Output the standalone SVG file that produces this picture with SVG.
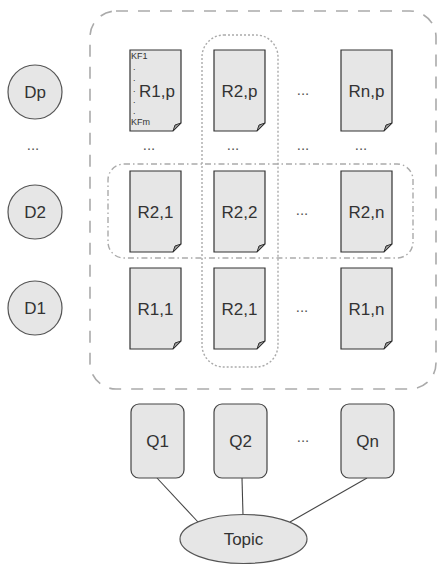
<svg xmlns="http://www.w3.org/2000/svg" width="437" height="566" viewBox="0 0 437 566">
<style>
text{font-family:"Liberation Sans",Arial,sans-serif;fill:#333;}
.lbl{font-size:17px;text-anchor:middle;}
.dots{font-size:15px;text-anchor:middle;fill:#555;}
.small{font-size:9px;}
.doc{fill:#e6e6e6;stroke:#333;stroke-width:1.2;}
.fold{fill:#999;stroke:#333;stroke-width:1;}
.circ{fill:#e6e6e6;stroke:#555;stroke-width:1.2;}
.q{fill:#e6e6e6;stroke:#444;stroke-width:1.2;}
.edge{stroke:#444;stroke-width:1.1;fill:none;}
</style>
<defs>
<g id="docshape">
<path class="doc" d="M0,0 H51 V73 L43,81 H0 Z"/>
<path class="fold" d="M51,73 L43,81 L45,75 Z"/>
</g>
</defs>
<g id="groups">
<rect x="90" y="11" width="346" height="378" rx="26" ry="26" fill="none" stroke="#aaa" stroke-width="1.6" stroke-dasharray="12 10"/>
<rect x="108" y="164" width="305" height="94" rx="16" ry="16" fill="none" stroke="#aaa" stroke-width="1.4" stroke-dasharray="6 3 1.5 3"/>
<rect x="202" y="35" width="76" height="332" rx="22" ry="22" fill="none" stroke="#aaa" stroke-width="1.4" stroke-dasharray="2 2"/>
</g>
<g id="connectors">
<line class="edge" x1="157" y1="478" x2="198" y2="522"/>
<line class="edge" x1="242" y1="478" x2="243" y2="515"/>
<line class="edge" x1="367" y1="478" x2="290" y2="522"/>
</g>
<g id="Dp"><circle class="circ" cx="35" cy="92" r="27"/><text class="lbl" x="35" y="98">Dp</text></g>
<text class="dots" x="33" y="150">...</text>
<g id="D2"><circle class="circ" cx="35" cy="212" r="27"/><text class="lbl" x="35" y="218">D2</text></g>
<g id="D1"><circle class="circ" cx="35" cy="308" r="27"/><text class="lbl" x="35" y="314">D1</text></g>
<g id="R1p"><use href="#docshape" x="130" y="50"/><text class="lbl" x="157" y="97">R1,p</text>
<text class="small" x="131" y="59">KF1</text>
<text class="small" x="133" y="70">.</text><text class="small" x="133" y="81">.</text><text class="small" x="133" y="92">.</text><text class="small" x="133" y="103">.</text><text class="small" x="133" y="114">.</text>
<text class="small" x="131" y="125">KFm</text></g>
<g id="R2p"><use href="#docshape" x="214" y="50"/><text class="lbl" x="239.5" y="97">R2,p</text></g>
<text class="dots" x="303" y="95">...</text>
<g id="Rnp"><use href="#docshape" x="341" y="50"/><text class="lbl" x="366.5" y="97">Rn,p</text></g>
<text class="dots" x="149" y="150">...</text>
<text class="dots" x="233" y="150">...</text>
<text class="dots" x="303" y="150">...</text>
<text class="dots" x="361" y="150">...</text>
<g id="R21a"><use href="#docshape" x="130" y="171"/><text class="lbl" x="155.5" y="218">R2,1</text></g>
<g id="R22"><use href="#docshape" x="214" y="171"/><text class="lbl" x="239.5" y="218">R2,2</text></g>
<text class="dots" x="302" y="215">...</text>
<g id="R2n"><use href="#docshape" x="341" y="171"/><text class="lbl" x="366.5" y="218">R2,n</text></g>
<g id="R11"><use href="#docshape" x="130" y="268"/><text class="lbl" x="155.5" y="315">R1,1</text></g>
<g id="R21b"><use href="#docshape" x="214" y="268"/><text class="lbl" x="239.5" y="315">R2,1</text></g>
<text class="dots" x="302" y="312">...</text>
<g id="R1n"><use href="#docshape" x="341" y="268"/><text class="lbl" x="366.5" y="315">R1,n</text></g>
<g id="Q1"><rect class="q" x="131" y="404" width="53" height="74" rx="8" ry="8"/><text class="lbl" x="157.5" y="447">Q1</text></g>
<g id="Q2"><rect class="q" x="214" y="404" width="53" height="74" rx="8" ry="8"/><text class="lbl" x="240.5" y="447">Q2</text></g>
<text class="dots" x="303" y="442">...</text>
<g id="Qn"><rect class="q" x="341" y="404" width="53" height="74" rx="8" ry="8"/><text class="lbl" x="367.5" y="447">Qn</text></g>
<g id="Topic"><ellipse class="circ" cx="243.5" cy="539" rx="63.5" ry="24.5"/><text class="lbl" x="243.5" y="545">Topic</text></g>
</svg>
